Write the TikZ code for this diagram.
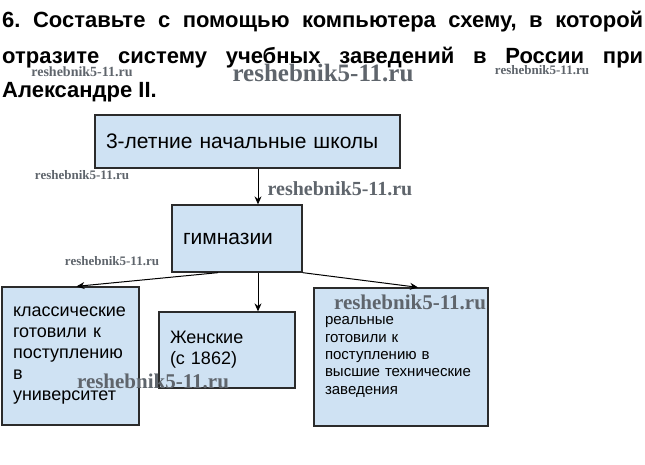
\documentclass[tikz,border=0pt]{standalone}
\usepackage{fontspec}
\setmainfont{Liberation Sans}
\newfontfamily\markfont{Liberation Serif}
\usetikzlibrary{positioning,arrows.meta}
\definecolor{boxblue}{HTML}{CFE2F3}
\definecolor{boxline}{HTML}{2B2B2B}
\definecolor{markgray}{HTML}{5F656C}

\begin{document}
\begin{tikzpicture}[x=1pt,y=-1pt,
    box/.style={draw=boxline,fill=boxblue,line width=1.3pt,inner xsep=11pt,inner ysep=0pt,align=left},
    head/.style={anchor=base west,inner sep=0pt,font=\bfseries\fontsize{22}{26}\selectfont\frenchspacing},
    wmark/.style={text=markgray,inner sep=0pt,font=\markfont\bfseries\fontsize{#1}{#1}\selectfont},
    >={Stealth[length=8pt,width=7pt]}]
     \useasboundingbox (0,0) rectangle (645,464);

     % task text
     \node[head] (line1) at (2,27) {\makebox[641pt][s]{6. Составьте с помощью компьютера схему, в которой}};
     \node[head] (line2) at (2,63) {\makebox[641pt][s]{отразите систему учебных заведений в России при}};
     \node[head] (line3) at (2,97) {Александре II.};

     % scheme
     \node[box,minimum width=305pt,minimum height=53pt,text width=283pt,font=\fontsize{21}{25}\selectfont] (school) at (247.5,141.5) {3-летние начальные школы};
     \node[box,minimum width=130pt,minimum height=67pt,text width=108pt,font=\fontsize{21}{25}\selectfont] (gym) at (237,238.5) {гимназии};
     \node[box,minimum width=137pt,minimum height=138pt,text width=115pt,font=\fontsize{18}{21}\selectfont] (classic) at (70.5,356) {классические\\готовили к\\поступлению\\в\\университет};
     \node[box,minimum width=136pt,minimum height=76pt,text width=114pt,font=\fontsize{18}{21}\selectfont] (women) at (227,350) {Женские\\(с 1862)};
     \node[box,minimum width=174pt,minimum height=138pt,text width=152pt,font=\fontsize{15}{17.3}\selectfont] (real) at (401,357) {реальные\\готовили к\\поступлению в\\высшие технические\\заведения};

     \coordinate (axis) at (258,0);
     \path[->,line width=1pt]
     (school.south -| axis) edge (gym.north -| axis)
     (gym.south -| axis) edge (women.north -| axis)
     ([xshift=-19pt]gym.south) edge ([xshift=6pt]classic.north)
     (gym.south east) edge ([xshift=17pt]real.north);

     % watermarks
     \node[wmark=14] (wm1) at (82,72) {reshebnik5-11.ru};
     \node[wmark=25] (wm2) at (323,73) {reshebnik5-11.ru};
     \node[wmark=13] (wm3) at (542,70) {reshebnik5-11.ru};
     \node[wmark=13] (wm4) at (82,175) {reshebnik5-11.ru};
     \node[wmark=20] (wm5) at (340,189) {reshebnik5-11.ru};
     \node[wmark=13] (wm6) at (112,261) {reshebnik5-11.ru};
     \node[wmark=21] (wm7) at (410,302) {reshebnik5-11.ru};
     \node[wmark=21] (wm8) at (153,381) {reshebnik5-11.ru};
\end{tikzpicture}
\end{document}
